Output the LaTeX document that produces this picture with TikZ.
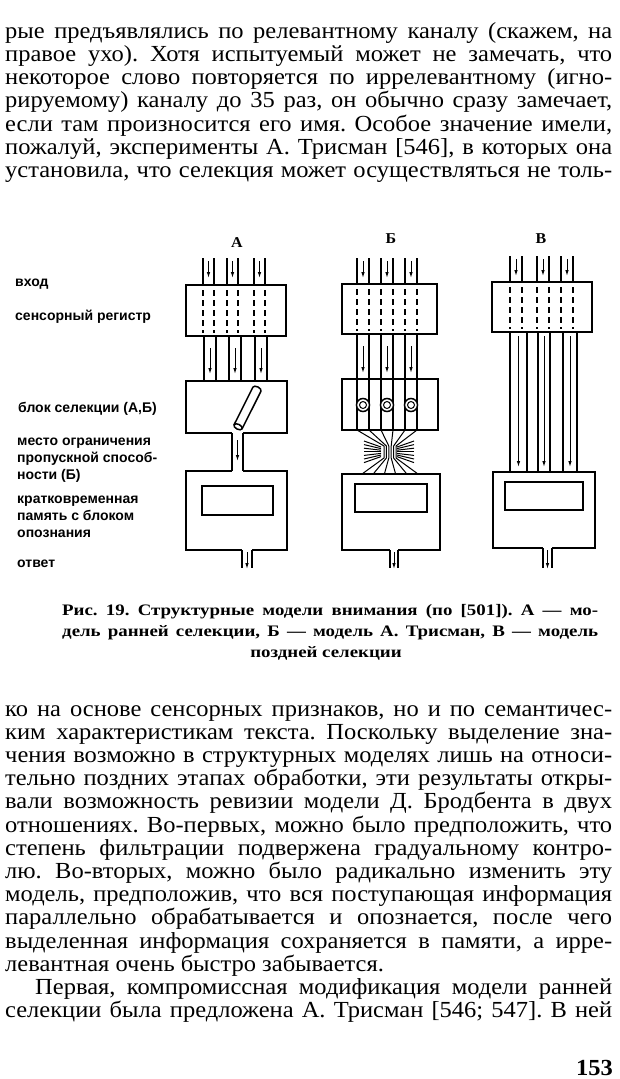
\documentclass[tikz,border=0pt]{standalone}
\usepackage{fontspec}
\setmainfont[FakeStretch=1.065]{Liberation Serif}
\newfontfamily\capfont[FakeStretch=1.18]{Liberation Serif}
\newfontfamily\lblfont{Liberation Sans}
\usetikzlibrary{arrows.meta}
\frenchspacing

\newcommand{\fullline}[2][607pt]{\makebox[#1][s]{#2}}

\begin{document}
\begin{tikzpicture}[x=1pt,y=-1pt,
    wall/.style={line width=1.5pt},
    thinwall/.style={line width=1pt},
    slot/.style={line width=1.6pt,dash pattern=on 6pt off 4pt},
    flow/.style={line width=1pt,-{Latex[length=6pt,width=3.5pt]}},
    body/.style={anchor=base west,inner sep=0pt,font=\fontsize{23}{24}\selectfont},
    capline/.style={anchor=base west,inner sep=0pt,font=\capfont\bfseries\fontsize{16}{18}\selectfont},
    lbl/.style={anchor=base west,inner sep=0pt,font=\lblfont\bfseries\fontsize{14}{16}\selectfont},
    head/.style={inner sep=0pt,font=\bfseries\fontsize{15}{16}\selectfont}]

    % Page frame
    \useasboundingbox (0,0) rectangle (620,1079);
    \fill[white] (0,0) rectangle (620,1079);

    % Text above the figure
    \node[body] (t1) at (5,38) {\fullline{рые предъявлялись по релевантному каналу (скажем, на}};
    \node[body] (t2) at (5,61.3) {\fullline{правое ухо). Хотя испытуемый может не замечать, что}};
    \node[body] (t3) at (5,84.6) {\fullline{некоторое слово повторяется по иррелевантному (игно-}};
    \node[body] (t4) at (5,107.9) {\fullline{рируемому) каналу до 35 раз, он обычно сразу замечает,}};
    \node[body] (t5) at (5,131.2) {\fullline{если там произносится его имя. Особое значение имели,}};
    \node[body] (t6) at (5,154.5) {\fullline{пожалуй, эксперименты А. Трисман [546], в которых она}};
    \node[body] (t7) at (5,177.8) {\fullline{установила, что селекция может осуществляться не толь-}};

    % Column headers
    \node[head] (hA) at (237,243) {А};
    \node[head] (hB) at (391,239) {Б};
    \node[head] (hC) at (541,239) {В};

    % Labels on the left
    \node[lbl] (in)   at (15,286) {вход};
    \node[lbl] (reg)  at (15,320) {сенсорный регистр};
    \node[lbl] (sel)  at (18,412) {блок селекции (А,Б)};
    \node[lbl] (lim1) at (17,445) {место ограничения};
    \node[lbl] (lim2) at (17,462) {пропускной способ-};
    \node[lbl] (lim3) at (17,479) {ности (Б)};
    \node[lbl] (mem1) at (17,503) {кратковременная};
    \node[lbl] (mem2) at (17,520) {память с блоком};
    \node[lbl] (mem3) at (17,537) {опознания};
    \node[lbl] (out)  at (17,567) {ответ};

    % ---- Model A: early selection ----
    \draw[wall] (186,285) rectangle (286,336);
    \foreach \x in {203,227,254} {
        \draw[wall] (\x,258) -- (\x,285) (\x+11,258) -- (\x+11,285);
        \draw[flow] (\x+5.5,261) -- (\x+5.5,278);
        \draw[slot] (\x,290) -- (\x,333) (\x+11,290) -- (\x+11,333);
    }
    \foreach \x in {204,229,255} {
        \draw[wall] (\x,336) -- (\x,381) (\x+12,336) -- (\x+12,381);
        \draw[flow] (\x+6,348) -- (\x+6,374);
    }
    % selection block with one narrow exit
    \draw[wall] (232,433) -- (186,433) -- (186,381) -- (287,381) -- (287,433) -- (243,433);
    \draw[wall] (232,433) -- (232,471) (243,433) -- (243,471);
    \draw[flow] (237.5,440) -- (237.5,461);
    % tilted tube
    \begin{scope}[shift={(247.5,408)},rotate=63.4]
        \draw[wall,fill=white] (-21,-4.5) -- (21,-4.5) arc[start angle=-90,end angle=90,x radius=2.5,y radius=4.5] -- (-21,4.5);
        \draw[wall,fill=white] (-21,0) ellipse[x radius=2.5,y radius=4.5];
    \end{scope}
    % memory box
    \draw[wall] (232,471) -- (186,471) -- (186,550) -- (242,550);
    \draw[wall] (243,471) -- (287,471) -- (287,550) -- (252,550);
    \draw[wall] (202,486) rectangle (273,515);
    \draw[wall] (242,550) -- (242,568) (252,550) -- (252,568);
    \draw[flow] (247,552) -- (247,569);

    % ---- Model B: Treisman ----
    \draw[wall] (342,284) rectangle (437,334);
    \foreach \x in {357,381,405} {
        \draw[wall] (\x,258) -- (\x,284) (\x+12,258) -- (\x+12,284);
        \draw[flow] (\x+6,261) -- (\x+6,278);
        \draw[slot] (\x,289) -- (\x,331) (\x+12,289) -- (\x+12,331);
        \draw[wall] (\x,334) -- (\x,430) (\x+12,334) -- (\x+12,430);
        \draw[flow] (\x+6,346) -- (\x+6,373);
        % attenuator ring
        \draw[wall,fill=white] (\x+6,405) circle[radius=6.5];
        \draw[thinwall] (\x+6,405) circle[radius=3.5];
    }
    \draw[wall] (342,379) rectangle (438,430);
    % funnel: channels squeezed through the bottleneck
    \foreach \x in {357,369,381,393,405,417} {
        \draw[thinwall] (\x,430) -- ({384+(\x-357)*12/60},446) -- ({384+(\x-357)*12/60},458) -- ({362+(\x-357)*56/60},474);
    }
    % lost information at the bottleneck
    \foreach \i in {0,...,6} {
        \draw[thinwall] (381,447+\i*1.6) -- (364,441+\i*3.6);
        \draw[thinwall] (397,447+\i*1.6) -- (414,441+\i*3.6);
    }
    % memory box
    \draw[wall] (390,550) -- (342,550) -- (342,474) -- (440,474) -- (440,550) -- (398,550);
    \draw[wall] (355,484) rectangle (427,512);
    \draw[wall] (390,550) -- (390,568) (398,550) -- (398,568);
    \draw[flow] (394,552) -- (394,569);

    % ---- Model C: late selection ----
    \draw[wall] (492,282) rectangle (592,332);
    \foreach \x in {510,537,561} {
        \draw[wall] (\x,256) -- (\x,282) (\x+12,256) -- (\x+12,282);
        \draw[flow] (\x+6,259) -- (\x+6,276);
        \draw[slot] (\x,287) -- (\x,329) (\x+12,287) -- (\x+12,329);
    }
    \foreach \x/\w in {510/17,538/12,563/14} {
        \draw[wall] (\x,332) -- (\x,472) (\x+\w,332) -- (\x+\w,472);
        \draw[flow] (\x+\w/2,336) -- (\x+\w/2,467);
    }
    % memory box
    \draw[wall] (543,548) -- (493,548) -- (493,472) -- (595,472) -- (595,548) -- (552,548);
    \draw[wall] (505,482) rectangle (583,510);
    \draw[wall] (543,548) -- (543,568) (552,548) -- (552,568);
    \draw[flow] (547.5,550) -- (547.5,569);

    % Caption
    \node[capline] (c1) at (62,615) {\fullline[536pt]{Рис. 19. Структурные модели внимания (по [501]). А — мо-}};
    \node[capline] (c2) at (62,636) {\fullline[536pt]{дель ранней селекции, Б — модель А. Трисман, В — модель}};
    \node[capline,anchor=base] (c3) at (326,657) {поздней селекции};

    % Text below the figure
    \node[body] (b1) at (5,716) {\fullline{ко на основе сенсорных признаков, но и по семантичес-}};
    \node[body] (b2) at (5,739.2) {\fullline{ким характеристикам текста. Поскольку выделение зна-}};
    \node[body] (b3) at (5,762.4) {\fullline{чения возможно в структурных моделях лишь на относи-}};
    \node[body] (b4) at (5,785.6) {\fullline{тельно поздних этапах обработки, эти результаты откры-}};
    \node[body] (b5) at (5,808.8) {\fullline{вали возможность ревизии модели Д. Бродбента в двух}};
    \node[body] (b6) at (5,832) {\fullline{отношениях. Во-первых, можно было предположить, что}};
    \node[body] (b7) at (5,855.2) {\fullline{степень фильтрации подвержена градуальному контро-}};
    \node[body] (b8) at (5,878.4) {\fullline{лю. Во-вторых, можно было радикально изменить эту}};
    \node[body] (b9) at (5,901.6) {\fullline{модель, предположив, что вся поступающая информация}};
    \node[body] (b10) at (5,924.8) {\fullline{параллельно обрабатывается и опознается, после чего}};
    \node[body] (b11) at (5,948) {\fullline{выделенная информация сохраняется в памяти, а ирре-}};
    \node[body] (b12) at (5,971.2) {левантная очень быстро забывается.};
    \node[body] (b13) at (35,994.4) {\fullline[577pt]{Первая, компромиссная модификация модели ранней}};
    \node[body] (b14) at (5,1017.6) {\fullline{селекции была предложена А. Трисман [546; 547]. В ней}};

    % Page number
    \node[body,anchor=base east,font=\bfseries\fontsize{23}{24}\selectfont] (pg) at (613,1075) {153};
\end{tikzpicture}
\end{document}
